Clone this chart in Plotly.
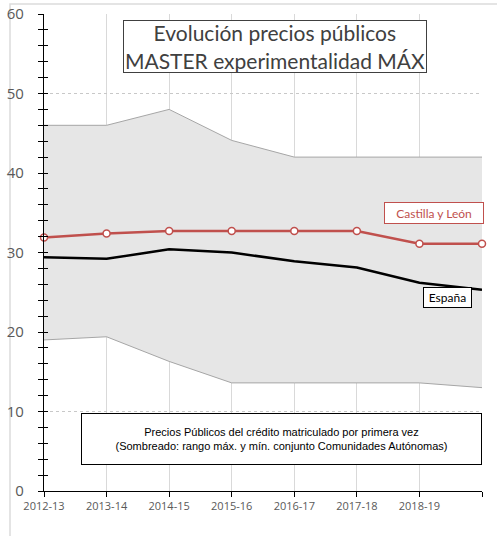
import plotly.graph_objects as go

years = ["2012-13", "2013-14", "2014-15", "2015-16", "2016-17", "2017-18", "2018-19", "2019-20"]
tick_labels = ["2012-13", "2013-14", "2014-15", "2015-16", "2016-17", "2017-18", "2018-19", ""]
max_ccaa = [46.0, 46.0, 48.0, 44.1, 42.0, 42.0, 42.0, 42.0]
min_ccaa = [19.0, 19.4, 16.3, 13.6, 13.6, 13.6, 13.6, 13.0]
castilla_leon = [31.9, 32.4, 32.7, 32.7, 32.7, 32.7, 31.1, 31.1]
espana = [29.4, 29.2, 30.4, 30.0, 28.9, 28.1, 26.2, 25.3]

xs = list(range(len(years)))

fig = go.Figure()
fig.add_trace(go.Scatter(x=xs, y=min_ccaa, mode="lines", line=dict(color="#a6a6a6", width=1),
                         showlegend=False, hoverinfo="skip"))
fig.add_trace(go.Scatter(x=xs, y=max_ccaa, mode="lines", line=dict(color="#a6a6a6", width=1),
                         fill="tonexty", fillcolor="#e6e6e6", showlegend=False, hoverinfo="skip"))
fig.add_trace(go.Scatter(x=xs, y=espana, mode="lines", line=dict(color="#000000", width=2.5),
                         name="España", showlegend=False))
fig.add_trace(go.Scatter(x=xs, y=castilla_leon, mode="lines+markers",
                         line=dict(color="#c0504d", width=2.5),
                         marker=dict(symbol="circle", size=7, color="white",
                                     line=dict(color="#c0504d", width=1.5)),
                         name="Castilla y León", showlegend=False, cliponaxis=False))

# invisible trace for overlay axis (crossing ticks)
fig.add_trace(go.Scatter(x=[0], y=[0], yaxis="y2", mode="markers", marker=dict(opacity=0),
                         showlegend=False, hoverinfo="skip"))

fig.update_layout(
    width=497, height=536,
    margin=dict(l=44, r=15, t=14, b=45, autoexpand=False),
    paper_bgcolor="white", plot_bgcolor="white",
    font=dict(family="Open Sans", color="#595959"),
    xaxis=dict(range=[0, 7], tickvals=xs, ticktext=tick_labels, showgrid=True,
               gridcolor="#d9d9d9", gridwidth=1, zeroline=False, automargin=False,
               showline=True, linecolor="#000000", linewidth=1.2,
               ticks="outside", ticklen=5, tickcolor="#000000",
               ticklabeloverflow="allow",
               tickfont=dict(size=11, color="#595959", family="Open Sans")),
    yaxis=dict(range=[0, 60], tickvals=[0, 10, 20, 30, 40, 50, 60], showgrid=True,
               gridcolor="#c8c8c8", griddash="3px,3px", gridwidth=1, zeroline=False,
               automargin=False,
               showline=True, linecolor="#000000", linewidth=1.2,
               ticks="outside", ticklen=5, tickcolor="#000000",
               ticklabelstandoff=11, ticklabeloverflow="allow",
               minor=dict(dtick=2, ticks="outside", ticklen=5, tickcolor="#000000", showgrid=False),
               tickfont=dict(size=15, color="#595959", family="Open Sans")),
    yaxis2=dict(range=[0, 60], overlaying="y", side="left", showgrid=False, zeroline=False,
                automargin=False,
                showticklabels=False, tickvals=[0, 10, 20, 30, 40, 50, 60],
                ticks="inside", ticklen=4, tickcolor="#000000",
                minor=dict(dtick=2, ticks="inside", ticklen=4, tickcolor="#000000", showgrid=False)),
)

def dx(px):
    return (px - 44) / (438 / 7)

def dy(py):
    return (491 - py) / (477 / 60)

# outer light frame
fig.add_shape(type="rect", xref="paper", yref="paper",
              x0=(10 - 44) / 438, x1=1.2, y0=-0.3, y1=(491 - 4) / 477,
              line=dict(color="#dcdcdc", width=1.5), fillcolor="rgba(0,0,0,0)", layer="below")

fig.add_annotation(x=dx(275), y=dy(46.5), text="Evolución precios públicos<br>MASTER experimentalidad MÁX",
                   showarrow=False, font=dict(family="Lato", size=21, color="#404040"),
                   bgcolor="white", bordercolor="#404040", borderwidth=1, borderpad=0,
                   width=302, height=51, align="center")
fig.add_annotation(x=dx(434), y=dy(212.5), text="Castilla y León",
                   showarrow=False, font=dict(family="Lato", size=12, color="#c0504d"),
                   bgcolor="white", bordercolor="#c0504d", borderwidth=1, borderpad=0,
                   width=98, height=20)
fig.add_annotation(x=dx(447), y=dy(297), text="España",
                   showarrow=False, font=dict(family="Lato", size=12, color="#000000"),
                   bgcolor="white", bordercolor="#000000", borderwidth=1, borderpad=0,
                   width=47, height=19)
fig.add_annotation(x=dx(281.5), y=dy(439), text="Precios Públicos del crédito matriculado por primera vez<br>(Sombreado: rango máx. y mín. conjunto Comunidades Autónomas)",
                   showarrow=False, font=dict(family="Liberation Sans", size=11, color="#000000"),
                   bgcolor="white", bordercolor="#000000", borderwidth=1, borderpad=0,
                   width=399, height=50, align="center")

fig.write_html("out.html", config={"displayModeBar": False},
               post_script="document.body.style.margin='0';document.body.style.overflow='hidden';")
